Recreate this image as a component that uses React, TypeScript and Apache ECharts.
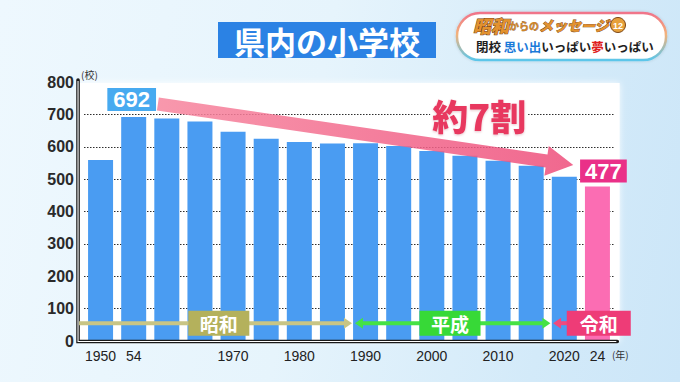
import React, { useEffect, useRef } from 'react';
import * as echarts from 'echarts';

// ---- data ----
const categories = ['1950', '1954', '1960', '1965', '1970', '1975', '1980', '1985', '1990', '1995', '2000', '2005', '2010', '2015', '2020', '2024'];
const tickLabels = ['1950', '54', '', '', '1970', '', '1980', '', '1990', '', '2000', '', '2010', '', '2020', '24'];
const schoolCounts = [559, 692, 687, 678, 646, 625, 615, 610, 611, 602, 587, 572, 557, 541, 507, 477];
const yMax = 800;
const yStep = 100;
const eraNames = ['昭和', '平成', '令和'];
const titleText = '県内の小学校';
const calloutText = '約7割';
const yUnit = '(校)';
const xUnit = '(年)';

const CJK = '"Noto Sans CJK JP", "Noto Sans", sans-serif';
const LAT = '"Liberation Sans", Arial, sans-serif';

export default function App() {
  const ref = useRef<HTMLDivElement>(null);
  useEffect(() => {
    if (!ref.current) return;
    const chart = echarts.init(ref.current, undefined, { renderer: 'svg' });
    const last = schoolCounts.length - 1;
    const peakIdx = schoolCounts.indexOf(Math.max(...schoolCounts));
    chart.setOption({
      animation: false,
      backgroundColor: 'transparent',
      grid: { left: 84, width: 530, top: 82, height: 259, containLabel: false },
      xAxis: {
        type: 'category',
        data: categories,
        axisLine: { show: false },
        axisTick: { show: false },
        axisLabel: {
          interval: 0,
          margin: 8,
          color: '#222',
          fontSize: 14,
          fontFamily: LAT,
          formatter: (_v: string, i: number) => tickLabels[i],
        },
      },
      yAxis: {
        type: 'value',
        min: 0,
        max: yMax,
        interval: yStep,
        axisLine: { show: false },
        axisTick: { show: false },
        axisLabel: { margin: 10, color: '#2a2a2a', fontSize: 16, fontWeight: 'bold', fontFamily: LAT },
        splitLine: {
          show: true,
          showMinLine: false,
          showMaxLine: false,
          lineStyle: { color: '#2e2e2e', width: 1, type: [1.5, 1.5] },
        },
      },
      series: [
        {
          type: 'bar',
          barWidth: 25,
          z: 3,
          data: schoolCounts.map((v, i) => {
            const item: any = { value: v, itemStyle: { color: i === last ? '#fb6db3' : '#4a9cf2' } };
            if (i === peakIdx) {
              item.label = {
                show: true, position: 'top', distance: 6, offset: [-2, 0],
                color: '#fff', fontSize: 22, fontWeight: 'bold', fontFamily: LAT,
                backgroundColor: '#47aaf0', padding: [1, 6, 0, 6],
              };
            }
            if (i === last) {
              item.label = {
                show: true, position: 'top', distance: 4, offset: [6, 0],
                color: '#fff', fontSize: 22, fontWeight: 'bold', fontFamily: LAT,
                backgroundColor: '#ea3088', padding: [1, 5, 0, 5],
              };
            }
            return item;
          }),
        },
      ],
    });

    const x0 = chart.convertToPixel({ xAxisIndex: 0 }, 0) as number;
    const x1 = chart.convertToPixel({ xAxisIndex: 0 }, 1) as number;
    const X = (f: number) => x0 + f * (x1 - x0);
    const Y = (v: number) => chart.convertToPixel({ yAxisIndex: 0 }, v) as number;

    const axL = X(-0.68);
    const axB = Y(0) + 0.5;
    const axT = Y(yMax) - 2;
    const axR = X(15.6);

    // big trend arrow
    const S = [X(1.73), Y(732)];
    const T = [X(14.27), Y(544)];
    const dx = T[0] - S[0], dy = T[1] - S[1];
    const len = Math.hypot(dx, dy);
    const u = [dx / len, dy / len];
    const n = [-u[1], u[0]];
    const H = [T[0] - u[0] * 27, T[1] - u[1] * 27];
    const sw = 6.5, hw = 15;
    const arrowPts = [
      [S[0] + n[0] * sw, S[1] + n[1] * sw],
      [H[0] + n[0] * sw, H[1] + n[1] * sw],
      [H[0] + n[0] * hw, H[1] + n[1] * hw],
      T,
      [H[0] - n[0] * hw, H[1] - n[1] * hw],
      [H[0] - n[0] * sw, H[1] - n[1] * sw],
      [S[0] - n[0] * sw, S[1] - n[1] * sw],
    ];

    const ey = Y(55);
    const head = (tipX: number, dir: number, color: string) => ({
      type: 'polygon', z: 20,
      shape: { points: [[tipX, ey], [tipX - dir * 8, ey - 5.5], [tipX - dir * 8, ey + 5.5]] },
      style: { fill: color },
    });
    const hline = (a: number, b: number, color: string) => ({
      type: 'line', z: 20,
      shape: { x1: a, y1: ey, x2: b, y2: ey },
      style: { stroke: color, lineWidth: 4 },
    });
    const box = (cx: number, w: number, color: string, label: string) => ({
      type: 'group', z: 21,
      children: [
        { type: 'rect', z: 21, shape: { x: cx - w / 2, y: ey - 12.5, width: w, height: 25 }, style: { fill: color } },
        {
          type: 'text', z: 22, x: cx, y: ey + 0.5,
          style: { text: label, fill: '#fff', font: `bold 19px ${CJK}`, align: 'center', verticalAlign: 'middle' },
        },
      ],
    });

    const showaC = '#c8c585', showaB = '#b4b15c';
    const heiseiC = '#45e245', heiseiB = '#37d937';
    const reiwaC = '#f04a7e', reiwaB = '#ee3c77';

    chart.setOption({
      graphic: [
        // white plot panel
        {
          type: 'rect', z: -1, silent: true,
          shape: { x: axL + 1, y: Y(yMax) + 1, width: X(15.67) - axL - 1, height: axB - Y(yMax) - 1 },
          style: { fill: '#ffffff', shadowBlur: 6, shadowColor: 'rgba(255,255,255,0.9)' },
        },
        // title
        {
          type: 'group',
          children: [
            { type: 'rect', shape: { x: 218, y: 22, width: 218, height: 36 }, style: { fill: '#2b82e4' } },
            {
              type: 'text', x: 327, y: 40.5,
              style: { text: titleText, fill: '#fff', font: `bold 31px ${CJK}`, align: 'center', verticalAlign: 'middle' },
            },
          ],
        },
        // logo pill
        {
          type: 'group',
          children: [
            {
              type: 'rect', shape: { x: 457, y: 13, width: 209, height: 47, r: 23 },
              style: {
                fill: '#ffffff',
                stroke: new echarts.graphic.LinearGradient(0, 0, 0, 1, [
                  { offset: 0, color: '#f0748a' },
                  { offset: 0.45, color: '#f3b27a' },
                  { offset: 1, color: '#5cc6ea' },
                ]),
                lineWidth: 2.5,
                shadowBlur: 3, shadowColor: 'rgba(0,0,0,0.15)',
              },
            },
            {
              type: 'text', x: 473, y: 25,
              style: {
                text: '{a|昭和}{b|からの}{c|メッセージ}',
                verticalAlign: 'middle',
                rich: {
                  a: { fontSize: 18, fontWeight: 900, fontStyle: 'italic', fontFamily: CJK, fill: '#e3922e', stroke: '#6e3b12', lineWidth: 1 },
                  b: { fontSize: 10, fontWeight: 'bold', fontFamily: CJK, fill: '#d08528', stroke: '#6e3b12', lineWidth: 0.4 },
                  c: { fontSize: 14, fontWeight: 900, fontStyle: 'italic', fontFamily: CJK, fill: '#e3922e', stroke: '#6e3b12', lineWidth: 0.8 },
                },
              },
            },
            { type: 'circle', shape: { cx: 618, cy: 25, r: 7.5 }, style: { fill: '#e7a03a', stroke: '#7a4516', lineWidth: 1 } },
            {
              type: 'text', x: 618, y: 25.5,
              style: { text: '12', fill: '#fff', font: `bold 9px ${LAT}`, align: 'center', verticalAlign: 'middle' },
            },
            {
              type: 'text', x: 476, y: 46,
              style: {
                text: '{k|閉校 }{b|思い出}{k|いっぱい}{r|夢}{k|いっぱい}',
                verticalAlign: 'middle',
                rich: {
                  k: { fontSize: 12.5, fontWeight: 'bold', fontFamily: CJK, fill: '#1e1e1e' },
                  b: { fontSize: 12.5, fontWeight: 'bold', fontFamily: CJK, fill: '#1b7ad9' },
                  r: { fontSize: 12.5, fontWeight: 'bold', fontFamily: CJK, fill: '#e01e1e' },
                },
              },
            },
          ],
        },
        // axis unit labels
        {
          type: 'text', x: axL + 3, y: Y(yMax) - 8,
          style: { text: yUnit, fill: '#333', font: `10px ${CJK}`, verticalAlign: 'middle' },
        },
        {
          type: 'text', x: axR + 3, y: axB + 13,
          style: { text: xUnit, fill: '#333', font: `10px ${CJK}`, align: 'center', verticalAlign: 'middle' },
        },
        // axes (double line)
        {
          type: 'polyline', z: 15,
          shape: { points: [[axL, axT], [axL, axB], [axR, axB]] },
          style: { stroke: '#1a1a1a', lineWidth: 3.6, fill: null, lineCap: 'round', lineJoin: 'miter' },
        },
        {
          type: 'polyline', z: 16,
          shape: { points: [[axL, axT + 1], [axL, axB], [axR - 1, axB]] },
          style: { stroke: '#ffffff', lineWidth: 1.1, fill: null, lineCap: 'butt' },
        },
        // trend arrow
        {
          type: 'polygon', z: 18,
          shape: { points: arrowPts },
          style: {
            fill: new echarts.graphic.LinearGradient(0, 0, 1, 0, [
              { offset: 0, color: '#f7879f' },
              { offset: 1, color: '#ee4f7c' },
            ]),
            opacity: 0.86,
          },
        },
        {
          type: 'text', z: 18, x: X(11.43), y: Y(700) + 0.5,
          style: {
            text: calloutText, fill: '#e8385f', font: `900 36px ${CJK}`,
            align: 'center', verticalAlign: 'middle',
            backgroundColor: '#ffffff', padding: [0, 2],
            textShadowColor: 'rgba(150,20,50,0.25)', textShadowBlur: 2, textShadowOffsetY: 1,
          },
        },
        // era arrows
        hline(axL + 1, X(7.59) - 6, showaC),
        head(X(7.59), 1, showaC),
        box(X(3.57), 61, showaB, eraNames[0]),
        hline(X(7.68) + 6, X(13.58) - 6, heiseiC),
        head(X(7.68), -1, heiseiC),
        head(X(13.58), 1, heiseiC),
        box(X(10.55), 61, heiseiB, eraNames[1]),
        head(X(13.66), -1, reiwaC),
        hline(X(13.66) + 6, X(14.2), reiwaC),
        box(X(15.04), 64, reiwaB, eraNames[2]),
      ],
    });

    return () => chart.dispose();
  }, []);

  return (
    <div
      ref={ref}
      style={{
        position: 'absolute', left: 0, top: 0, width: 680, height: 382,
        background: 'linear-gradient(100deg, #eef8fe 0%, #e6f4fc 45%, #d3eaf9 80%, #cce6f8 100%)',
      }}
    />
  );
}
